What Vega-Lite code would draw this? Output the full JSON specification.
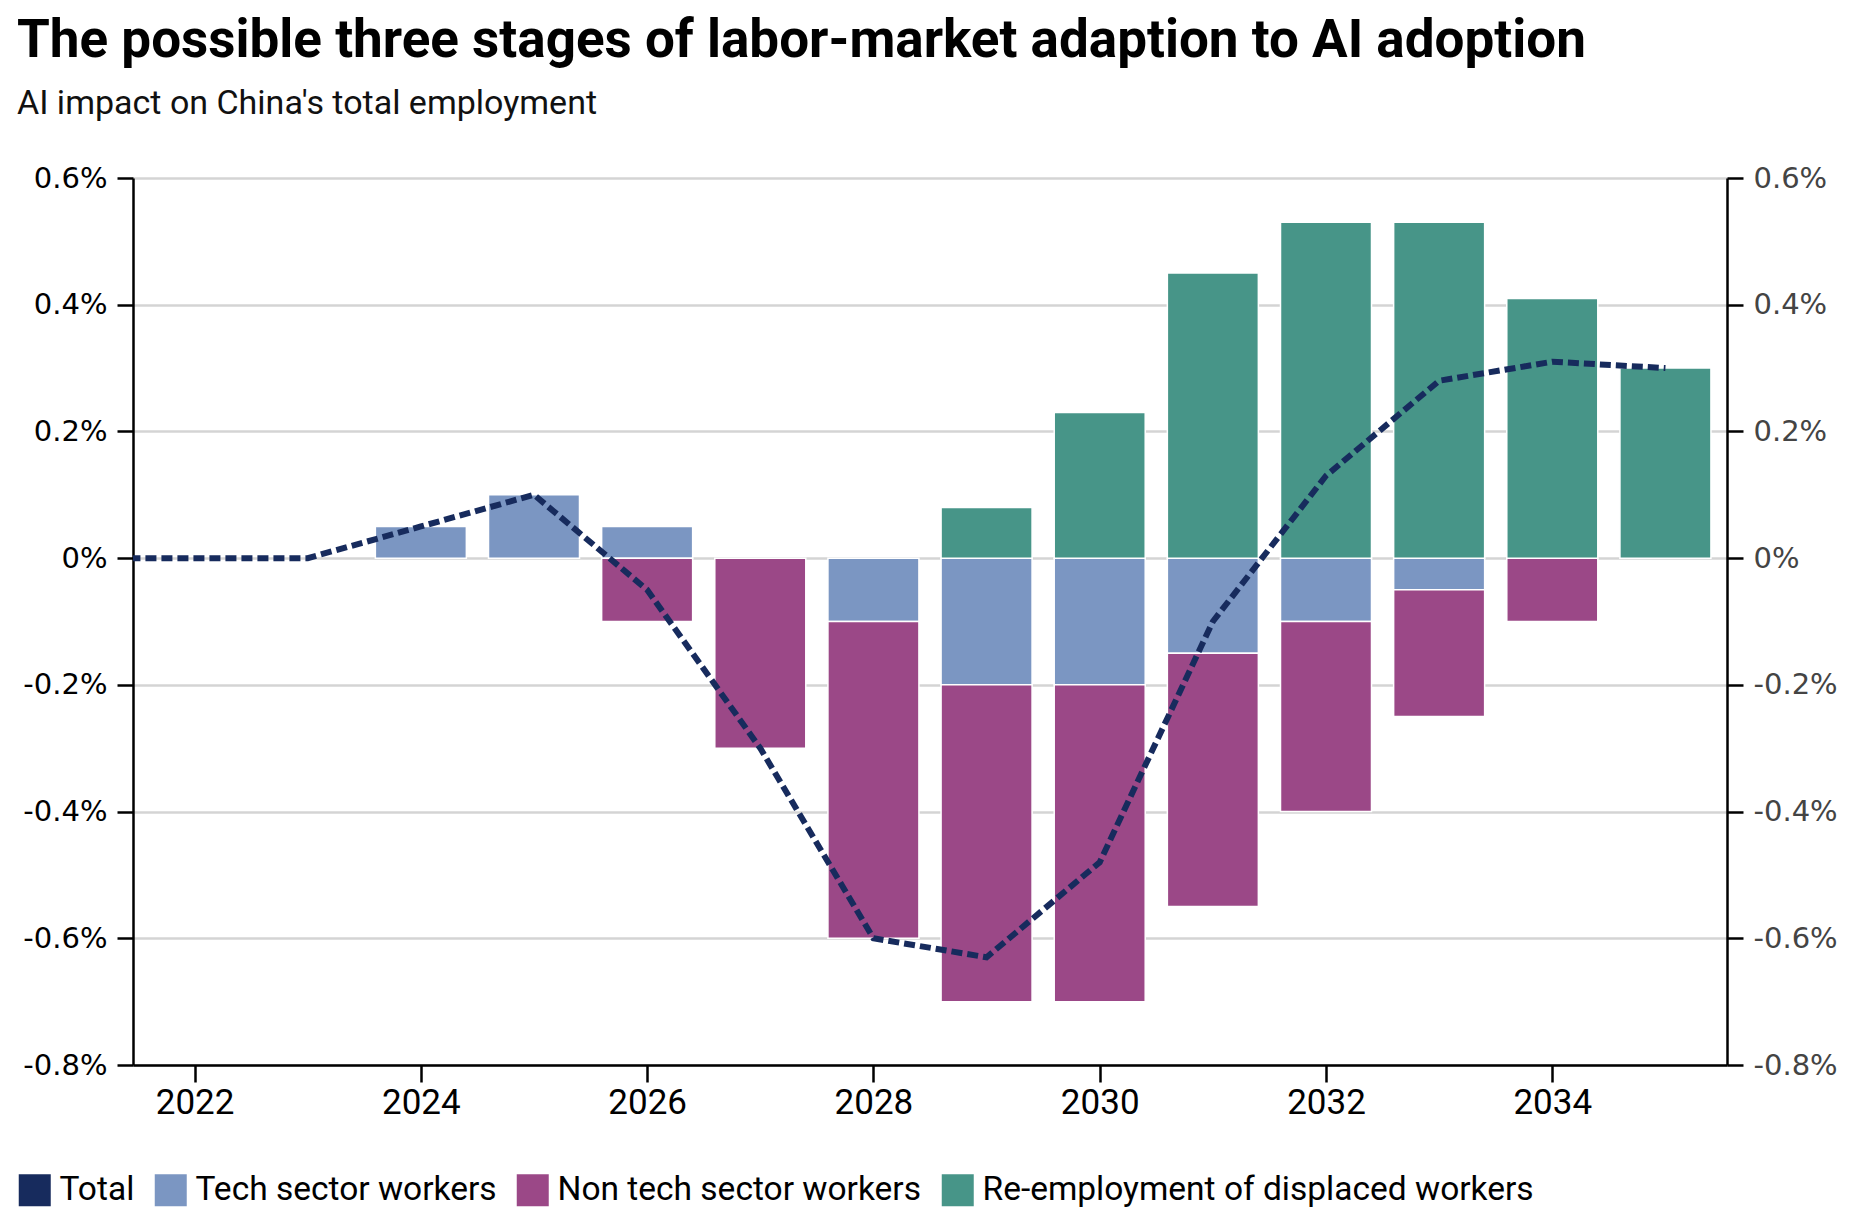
{
  "$schema": "https://vega.github.io/schema/vega-lite/v6.json",
  "width": 1594,
  "height": 887,
  "autosize": {"type": "none"},
  "padding": {"left": 133, "top": 178, "right": 137, "bottom": 157},
  "background": "white",
  "title": {
    "text": "The possible three stages of labor-market adaption to AI adoption",
    "subtitle": "AI impact on China's total employment",
    "anchor": "start",
    "frame": "group",
    "dx": -116,
    "offset": 43,
    "font": "Roboto",
    "fontSize": 53,
    "fontWeight": "bold",
    "color": "#000000",
    "subtitleFont": "Roboto",
    "subtitleFontSize": 34,
    "subtitleColor": "#111111",
    "subtitlePadding": 19
  },
  "config": {
    "view": {"stroke": null},
    "legend": {
      "orient": "none",
      "legendX": -115,
      "legendY": 995,
      "direction": "horizontal",
      "symbolType": "square",
      "symbolSize": 1024,
      "symbolStrokeWidth": 0,
      "symbolOpacity": 1,
      "labelFont": "Roboto",
      "labelFontSize": 33.5,
      "labelColor": "#000000",
      "labelOffset": 8,
      "labelLimit": 1000,
      "columnPadding": 19,
      "title": null
    }
  },
  "datasets": {
    "parts": [
      {"year": 2024, "series": "Tech sector workers", "rank": 1, "value": 0.05},
      {"year": 2025, "series": "Tech sector workers", "rank": 1, "value": 0.1},
      {"year": 2026, "series": "Tech sector workers", "rank": 1, "value": 0.05},
      {"year": 2026, "series": "Non tech sector workers", "rank": 2, "value": -0.1},
      {"year": 2027, "series": "Non tech sector workers", "rank": 2, "value": -0.3},
      {"year": 2028, "series": "Tech sector workers", "rank": 1, "value": -0.1},
      {"year": 2028, "series": "Non tech sector workers", "rank": 2, "value": -0.5},
      {"year": 2029, "series": "Tech sector workers", "rank": 1, "value": -0.2},
      {"year": 2029, "series": "Non tech sector workers", "rank": 2, "value": -0.5},
      {"year": 2029, "series": "Re-employment of displaced workers", "rank": 3, "value": 0.08},
      {"year": 2030, "series": "Tech sector workers", "rank": 1, "value": -0.2},
      {"year": 2030, "series": "Non tech sector workers", "rank": 2, "value": -0.5},
      {"year": 2030, "series": "Re-employment of displaced workers", "rank": 3, "value": 0.23},
      {"year": 2031, "series": "Tech sector workers", "rank": 1, "value": -0.15},
      {"year": 2031, "series": "Non tech sector workers", "rank": 2, "value": -0.4},
      {"year": 2031, "series": "Re-employment of displaced workers", "rank": 3, "value": 0.45},
      {"year": 2032, "series": "Tech sector workers", "rank": 1, "value": -0.1},
      {"year": 2032, "series": "Non tech sector workers", "rank": 2, "value": -0.3},
      {"year": 2032, "series": "Re-employment of displaced workers", "rank": 3, "value": 0.53},
      {"year": 2033, "series": "Tech sector workers", "rank": 1, "value": -0.05},
      {"year": 2033, "series": "Non tech sector workers", "rank": 2, "value": -0.2},
      {"year": 2033, "series": "Re-employment of displaced workers", "rank": 3, "value": 0.53},
      {"year": 2034, "series": "Non tech sector workers", "rank": 2, "value": -0.1},
      {"year": 2034, "series": "Re-employment of displaced workers", "rank": 3, "value": 0.41},
      {"year": 2035, "series": "Re-employment of displaced workers", "rank": 3, "value": 0.3}
    ],
    "total": [
      {"year": 2021, "series": "Total", "value": 0},
      {"year": 2022, "series": "Total", "value": 0},
      {"year": 2023, "series": "Total", "value": 0},
      {"year": 2024, "series": "Total", "value": 0.05},
      {"year": 2025, "series": "Total", "value": 0.1},
      {"year": 2026, "series": "Total", "value": -0.05},
      {"year": 2027, "series": "Total", "value": -0.3},
      {"year": 2028, "series": "Total", "value": -0.6},
      {"year": 2029, "series": "Total", "value": -0.63},
      {"year": 2030, "series": "Total", "value": -0.48},
      {"year": 2031, "series": "Total", "value": -0.1},
      {"year": 2032, "series": "Total", "value": 0.13},
      {"year": 2033, "series": "Total", "value": 0.28},
      {"year": 2034, "series": "Total", "value": 0.31},
      {"year": 2035, "series": "Total", "value": 0.3}
    ]
  },
  "layer": [
    {
      "data": {"name": "parts"},
      "mark": {"type": "bar", "orient": "vertical", "size": 91, "stroke": "white", "strokeWidth": 1.5},
      "encoding": {
        "x": {
          "field": "year",
          "type": "quantitative",
          "scale": {"domain": [2021.5, 2035.5], "nice": false, "zero": false},
          "axis": {
            "values": [2022, 2024, 2026, 2028, 2030, 2032, 2034],
            "labelExpr": "datum.value",
            "grid": false,
            "title": null,
            "domainColor": "#000000",
            "domainWidth": 2.5,
            "tickColor": "#000000",
            "tickWidth": 2.5,
            "tickSize": 17,
            "labelFont": "Roboto",
            "labelFontSize": 35,
            "labelColor": "#000000",
            "labelPadding": 3
          }
        },
        "y": {
          "field": "value",
          "type": "quantitative",
          "stack": "zero",
          "scale": {"domain": [-0.8, 0.6], "nice": false},
          "axis": {
            "orient": "left",
            "values": [-0.8, -0.6, -0.4, -0.2, 0, 0.2, 0.4, 0.6],
            "labelExpr": "datum.value + '%'",
            "grid": true,
            "gridColor": "#d4d4d4",
            "gridWidth": 2.5,
            "title": null,
            "domainColor": "#000000",
            "domainWidth": 2.5,
            "tickColor": "#000000",
            "tickWidth": 2.5,
            "tickSize": 16,
            "labelFont": "DejaVu Sans",
            "labelFontSize": 29,
            "labelColor": "#000000",
            "labelPadding": 10
          }
        },
        "color": {
          "field": "series",
          "type": "nominal",
          "scale": {
            "domain": ["Total", "Tech sector workers", "Non tech sector workers", "Re-employment of displaced workers"],
            "range": ["#172b5d", "#7b96c2", "#9b4887", "#479588"]
          },
          "legend": {
            "encode": {
              "symbols": {
                "update": {
                  "fill": {"scale": "color", "field": "value"},
                  "stroke": {"value": "transparent"},
                  "opacity": {"value": 1}
                }
              }
            }
          }
        },
        "order": {"field": "rank"}
      }
    },
    {
      "data": {"name": "total"},
      "mark": {"type": "line", "strokeDash": [11, 5], "strokeWidth": 6, "clip": true},
      "encoding": {
        "x": {"field": "year", "type": "quantitative"},
        "y": {
          "field": "value",
          "type": "quantitative",
          "axis": {
            "orient": "right",
            "values": [-0.8, -0.6, -0.4, -0.2, 0, 0.2, 0.4, 0.6],
            "labelExpr": "datum.value + '%'",
            "grid": false,
            "title": null,
            "domainColor": "#000000",
            "domainWidth": 2.5,
            "tickColor": "#000000",
            "tickWidth": 2.5,
            "tickSize": 16,
            "labelFont": "DejaVu Sans",
            "labelFontSize": 29,
            "labelColor": "#444444",
            "labelPadding": 10
          }
        },
        "color": {"field": "series", "type": "nominal"}
      }
    }
  ],
  "resolve": {"axis": {"y": "independent"}}
}
